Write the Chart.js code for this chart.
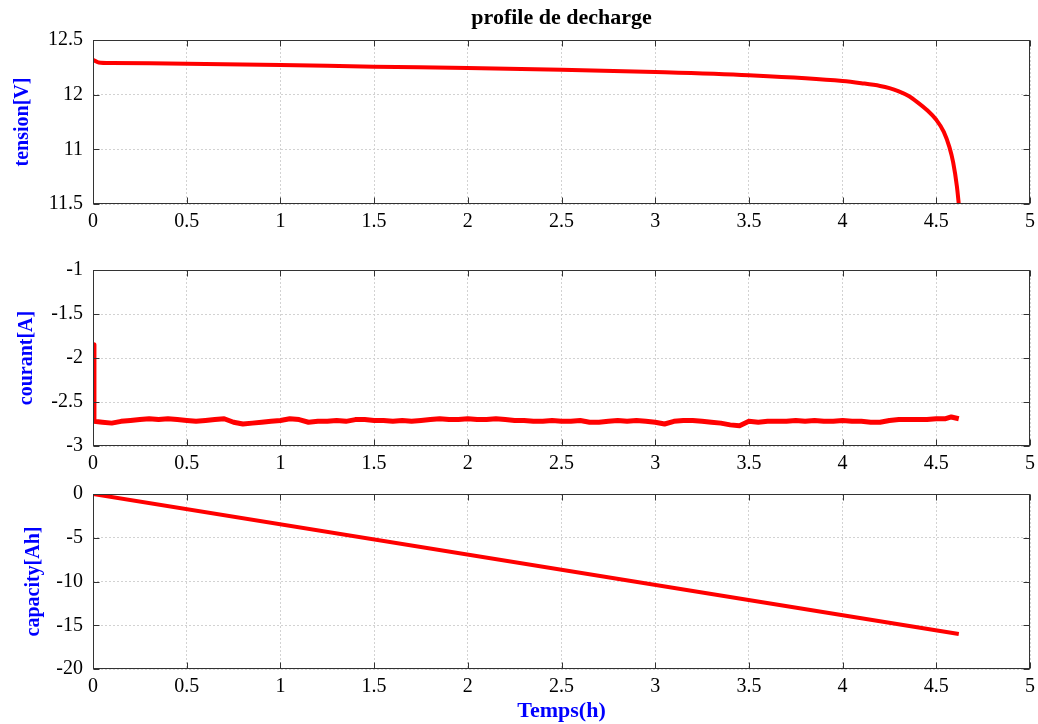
<!DOCTYPE html>
<html>
<head>
<meta charset="utf-8">
<title>profile de decharge</title>
<script src="https://cdn.jsdelivr.net/npm/chart.js@4.4.1/dist/chart.umd.min.js"></script>
<style>
  body { margin: 0; background: #fff; }
  #fig { position: relative; width: 1038px; height: 724px; overflow: hidden; }
  #fig canvas { position: absolute; left: 0; }
</style>
</head>
<body>
<div id="fig">
  <canvas id="tension" width="1038" height="230" style="top:0"></canvas>
  <canvas id="courant" width="1038" height="212" style="top:260px"></canvas>
  <canvas id="capacity" width="1038" height="244" style="top:484px"></canvas>
</div>
<script>
const serif = "'Liberation Serif', 'Times New Roman', serif";
const red = '#ff0000';
const blue = '#0000ff';
const axisColor = '#333333';
const gridColor = '#d2d2d2';

// time axis, hours
const timeMin = 0;
const timeMax = 5;
const timeStep = 0.5;

// tension [V]
const tensionTime   = [0, 0.03, 0.1, 0.5, 1, 1.5, 2, 2.5, 3, 3.5, 4, 4.1, 4.2, 4.25, 4.3, 4.35, 4.4, 4.45, 4.5, 4.54, 4.57, 4.59, 4.61, 4.62];
const tensionValues = [12.32, 12.295, 12.29, 12.283, 12.271, 12.256, 12.244, 12.228, 12.207, 12.177, 12.125, 12.105, 12.08, 12.06, 12.03, 11.99, 11.93, 11.86, 11.77, 11.66, 11.52, 11.38, 11.16, 11.0];
const tensionTickValues = [11, 11.5, 12, 12.5];
const tensionTickLabels = ['11.5', '11', '12', '12.5'];

// courant [A]
const courantTime = [
  0, 0.005,
  0.05, 0.10, 0.15, 0.20, 0.25, 0.30, 0.35, 0.40, 0.45, 0.50,
  0.55, 0.60, 0.65, 0.70, 0.75, 0.80, 0.85, 0.90, 0.95, 1.00,
  1.05, 1.10, 1.15, 1.20, 1.25, 1.30, 1.35, 1.40, 1.45, 1.50,
  1.55, 1.60, 1.65, 1.70, 1.75, 1.80, 1.85, 1.90, 1.95, 2.00,
  2.05, 2.10, 2.15, 2.20, 2.25, 2.30, 2.35, 2.40, 2.45, 2.50,
  2.55, 2.60, 2.65, 2.70, 2.75, 2.80, 2.85, 2.90, 2.95, 3.00,
  3.05, 3.10, 3.15, 3.20, 3.25, 3.30, 3.35, 3.40, 3.45, 3.50,
  3.55, 3.60, 3.65, 3.70, 3.75, 3.80, 3.85, 3.90, 3.95, 4.00,
  4.05, 4.10, 4.15, 4.20, 4.25, 4.30, 4.35, 4.40, 4.45, 4.50,
  4.55, 4.58, 4.62
];
const courantValues = [
  -1.85, -2.72,
  -2.73, -2.74, -2.72, -2.71, -2.70, -2.69, -2.70, -2.69, -2.70, -2.71,
  -2.72, -2.71, -2.70, -2.69, -2.73, -2.75, -2.74, -2.73, -2.72, -2.71,
  -2.69, -2.70, -2.73, -2.72, -2.72, -2.71, -2.72, -2.70, -2.70, -2.71,
  -2.71, -2.72, -2.71, -2.72, -2.71, -2.70, -2.69, -2.70, -2.70, -2.69,
  -2.70, -2.70, -2.69, -2.70, -2.71, -2.71, -2.72, -2.72, -2.71, -2.72,
  -2.72, -2.71, -2.73, -2.73, -2.72, -2.71, -2.72, -2.71, -2.72, -2.73,
  -2.75, -2.72, -2.71, -2.71, -2.72, -2.73, -2.74, -2.76, -2.77, -2.72,
  -2.73, -2.72, -2.72, -2.72, -2.71, -2.72, -2.71, -2.72, -2.72, -2.71,
  -2.72, -2.72, -2.73, -2.73, -2.71, -2.70, -2.70, -2.70, -2.70, -2.69,
  -2.69, -2.67, -2.69
];

// capacity [Ah]
const capacityTime   = [0, 4.62];
const capacityValues = [0, -16];

// closed axes box with inward tick marks
const frame = {
  id: 'frame',
  afterDraw(chart) {
    const { ctx, chartArea: a, scales } = chart;
    const len = 6;
    const l = Math.round(a.left) + 0.5, r = Math.round(a.right) - 0.5;
    const t = Math.round(a.top) + 0.5, b = Math.round(a.bottom) - 0.5;
    ctx.save();
    ctx.strokeStyle = axisColor;
    ctx.lineWidth = 1;
    ctx.beginPath();
    scales.x.ticks.forEach(tk => {
      const px = Math.round(scales.x.getPixelForValue(tk.value)) + 0.5;
      ctx.moveTo(px, b); ctx.lineTo(px, b - len);
      ctx.moveTo(px, t); ctx.lineTo(px, t + len);
    });
    scales.y.ticks.forEach(tk => {
      const py = Math.round(scales.y.getPixelForValue(tk.value)) + 0.5;
      ctx.moveTo(l, py); ctx.lineTo(l + len, py);
      ctx.moveTo(r, py); ctx.lineTo(r - len, py);
    });
    ctx.stroke();
    ctx.strokeRect(l, t, r - l, b - t);
    ctx.restore();
  }
};

const tickFont = { family: serif, size: 20 };
const labelFont = { family: serif, size: 20, weight: 'bold' };

// labels may hang past the plot edges; keep the plot box where the layout puts it
function noEdgePadding(s) {
  s.paddingTop = 0;
  s.paddingBottom = 0;
  s.paddingLeft = 0;
  s.paddingRight = 0;
}

function xScale(height, title) {
  return {
    type: 'linear',
    min: timeMin,
    max: timeMax,
    afterFit: s => { s.height = height; noEdgePadding(s); },
    ticks: {
      stepSize: timeStep,
      color: '#000',
      font: tickFont,
      padding: 6,
      maxRotation: 0,
      autoSkip: false,
      callback: v => String(+v.toFixed(2)),
    },
    grid: { color: gridColor, drawTicks: false },
    border: { display: false, dash: [2, 2] },
    title: title || { display: false },
  };
}

function yScale(min, max, step, label, titlePad, callback) {
  return {
    min,
    max,
    afterFit: s => { s.width = 93; noEdgePadding(s); },
    ticks: {
      stepSize: step,
      color: '#000',
      font: tickFont,
      padding: 10,
      callback: callback || (v => String(+v.toFixed(2))),
    },
    grid: { color: gridColor, drawTicks: false },
    border: { display: false, dash: [2, 2] },
    title: { display: true, text: label, color: blue, font: labelFont, padding: { top: titlePad, bottom: 0 } },
  };
}

function panel(id, times, values, width, scales, extra = {}) {
  return new Chart(document.getElementById(id), {
    type: 'line',
    data: {
      datasets: [{
        data: times.map((t, i) => ({ x: t, y: values[i] })),
        borderColor: red,
        borderWidth: width,
        pointRadius: 0,
        cubicInterpolationMode: extra.smooth ? 'monotone' : 'default',
        borderJoinStyle: 'round',
      }],
    },
    options: {
      responsive: false,
      animation: false,
      layout: { padding: { top: extra.top ?? 10, right: 8, left: 0, bottom: 0 } },
      plugins: {
        legend: { display: false },
        tooltip: { enabled: false },
        title: extra.title || { display: false },
      },
      scales,
    },
    plugins: [frame],
  });
}

panel('tension', tensionTime, tensionValues, 4, {
  x: xScale(26),
  y: yScale(11, 12.5, 0.5, 'tension[V]', 11, v => tensionTickLabels[tensionTickValues.indexOf(v)] ?? ''),
}, {
  smooth: true,
  top: 0,
  title: {
    display: true,
    text: 'profile de decharge',
    color: '#000',
    fullSize: false,
    font: { family: serif, size: 22, weight: 'bold' },
    padding: { top: 5, bottom: 8.6 },
  },
});

panel('courant', courantTime, courantValues, 5, {
  x: xScale(26),
  y: yScale(-3, -1, 0.5, 'courant[A]', 15),
});

panel('capacity', capacityTime, capacityValues, 4, {
  x: xScale(59, {
    display: true,
    text: 'Temps(h)',
    color: blue,
    font: { family: serif, size: 22, weight: 'bold' },
    padding: { top: 0, bottom: 3 },
  }),
  y: yScale(-20, 0, 5, 'capacity[Ah]', 22),
});
</script>
</body>
</html>
